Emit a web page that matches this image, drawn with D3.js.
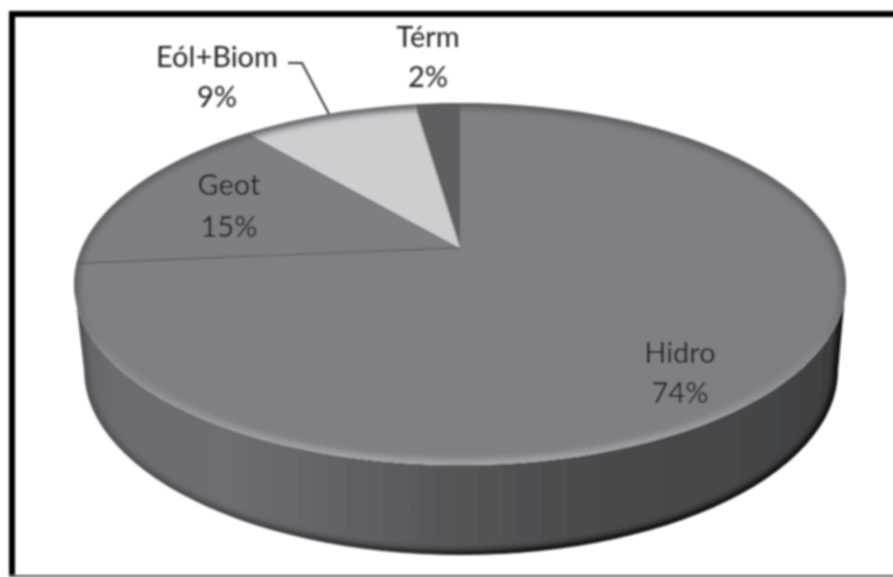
<!DOCTYPE html>
<html>
<head>
<meta charset="utf-8">
<script src="https://cdn.jsdelivr.net/npm/d3@7"></script>
<style>
html, body { margin: 0; padding: 0; background: #fff; overflow: hidden; }
text { font-family: Lato, "Open Sans", sans-serif; font-size: 29px; fill: #222224; text-anchor: middle; }
</style>
</head>
<body>
<svg id="svg" width="893" height="577"></svg>
<script>
var categories = ["Hidro", "Geot", "Eól+Biom", "Térm"];
// the printed labels are rounded
var shares = [73.6, 15.2, 8.9, 2.3];
var shareLabels = ["74%", "15%", "9%", "2%"];

var svg = d3.select("#svg");
var defs = svg.append("defs");

// top face is a tilted disc: centre of the pie sits above the centre of the ellipse
var top_ = { cx: 460, cy: 284, rx: 386, ry: 181 };
var bot = { cx: 461, cy: 370, rx: 377, ry: 185 };
var tilt = -0.2;

function project(angle, r) {
	var u = Math.sin(angle) * r, v = -Math.cos(angle) * r;
	var k = 1 + tilt * v;
	return [
		top_.cx + top_.rx * u * Math.sqrt(1 - tilt * tilt) / k,
		top_.cy + top_.ry * (v + tilt) / k
	];
}

function ellipsePt(e, a) {
	return [e.cx + e.rx * Math.cos(a), e.cy + e.ry * Math.sin(a)];
}

var line = d3.line();

function slicePath(d) {
	var n = Math.ceil((d.endAngle - d.startAngle) * 60);
	var pts = [project(0, 0)];
	d3.range(n + 1).forEach(function(i) {
		pts.push(project(d.startAngle + (d.endAngle - d.startAngle) * i / n, 1));
	});
	return line(pts) + "Z";
}

var pie = d3.pie().sort(null);
var slices = pie(shares);

var fill = d3.scaleOrdinal().domain(categories).range(["#7f8083", "#7e7f82", "#cdced0", "#5e5f62"]);

// filters
var soft = defs.append("filter").attr("id", "soft").attr("x", "-5%").attr("y", "-5%").attr("width", "110%").attr("height", "110%");
soft.append("feGaussianBlur").attr("stdDeviation", 0.8);
var blur3 = defs.append("filter").attr("id", "blur3").attr("filterUnits", "userSpaceOnUse")
	.attr("x", 0).attr("y", 0).attr("width", 893).attr("height", 577);
blur3.append("feGaussianBlur").attr("stdDeviation", 3);

// side wall shading, left to right
var wallGrad = defs.append("linearGradient").attr("id", "wallGrad")
	.attr("gradientUnits", "userSpaceOnUse")
	.attr("x1", 74).attr("x2", 846).attr("y1", 0).attr("y2", 0);
[[0, "#616265"], [0.05, "#6b6c6f"], [0.2, "#6d6e71"], [0.35, "#616265"], [0.5, "#545557"], [0.7, "#48494b"], [0.9, "#444547"], [1, "#3c3c3e"]]
	.forEach(function(s) { wallGrad.append("stop").attr("offset", s[0]).attr("stop-color", s[1]); });

// dark outer edge of the wall, faint on the left and nearly black on the right
var edgeGrad = defs.append("linearGradient").attr("id", "edgeGrad")
	.attr("gradientUnits", "userSpaceOnUse")
	.attr("x1", 74).attr("x2", 846).attr("y1", 0).attr("y2", 0);
[[0, "#000", 0.25], [0.3, "#000", 0.55], [0.6, "#000", 1], [1, "#000", 1]]
	.forEach(function(s) { edgeGrad.append("stop").attr("offset", s[0]).attr("stop-color", s[1]).attr("stop-opacity", s[2]); });

// rim of the top face: darker up and to the right, pale along the front
var rimGrad = defs.append("linearGradient").attr("id", "rimGrad")
	.attr("gradientUnits", "userSpaceOnUse")
	.attr("x1", 0).attr("x2", 0).attr("y1", 103).attr("y2", 465);
[[0, "#5c5d60"], [0.5, "#5e5f62"], [0.68, "#868789"], [1, "#a6a7a9"]]
	.forEach(function(s) { rimGrad.append("stop").attr("offset", s[0]).attr("stop-color", s[1]); });

var chart = svg.append("g").attr("filter", "url(#soft)");

// frame
chart.append("rect").attr("x", 9).attr("y", 11).attr("width", 900).attr("height", 6).attr("fill", "#000");
chart.append("rect").attr("x", 9).attr("y", 11).attr("width", 6).attr("height", 566).attr("fill", "#000");
chart.append("rect").attr("x", 9).attr("y", 575).attr("width", 900).attr("height", 2).attr("fill", "#555");

// wall
var frontTop = d3.range(0, 181, 3).map(function(a) { return ellipsePt(top_, a * Math.PI / 180); });
var frontBot = d3.range(0, 181, 3).map(function(a) { return ellipsePt(bot, a * Math.PI / 180); });
var wallD = line(frontBot) + "L" + line(frontTop.slice().reverse()).slice(1) + "Z";
var wallClip = defs.append("clipPath").attr("id", "wallClip");
wallClip.append("path").attr("d", wallD);

var wall = chart.append("g").attr("clip-path", "url(#wallClip)");
wall.append("path").attr("d", wallD).attr("fill", "url(#wallGrad)");
var outline = [ellipsePt(top_, 0)].concat(frontBot, [ellipsePt(top_, Math.PI)]);
wall.append("path").attr("d", line(outline)).attr("fill", "none")
	.attr("stroke", "url(#edgeGrad)").attr("stroke-width", 8).attr("filter", "url(#blur3)");

// top face
var faceD = line(d3.range(0, 361, 2).map(function(a) { return ellipsePt(top_, a * Math.PI / 180); })) + "Z";
var faceClip = defs.append("clipPath").attr("id", "faceClip");
faceClip.append("path").attr("d", faceD);

var face = chart.append("g").attr("clip-path", "url(#faceClip)");

face.selectAll("path.slice")
	.data(slices)
	.enter()
	.append("path")
	.attr("class", "slice")
	.attr("d", slicePath)
	.attr("fill", function(d, i) { return fill(categories[i]); });

face.append("path").attr("d", faceD).attr("fill", "none")
	.attr("stroke", "url(#rimGrad)").attr("stroke-width", 10).attr("filter", "url(#blur3)");

// edge between Hidro and Geot, and the pale wedge's side
face.append("path")
	.attr("d", line([project(0, 0), project(slices[1].startAngle, 1)]))
	.attr("stroke", "#565759").attr("stroke-width", 1.2).attr("fill", "none");
face.append("path")
	.attr("d", line([project(0, 0), project(slices[3].startAngle, 1)]))
	.attr("stroke", "#a0a1a3").attr("stroke-width", 1).attr("fill", "none");

// leader for Eól+Biom
chart.append("path")
	.attr("d", line([[288, 63], [302, 63], [329, 114]]))
	.attr("fill", "none").attr("stroke", "#333").attr("stroke-width", 2);

// labels
var labelAt = [[680, 363, 403], [229, 195, 237], [217, 67, 107], [428, 47, 87]];
var labels = chart.append("g");
categories.forEach(function(name, i) {
	labels.append("text").attr("x", labelAt[i][0]).attr("y", labelAt[i][1]).text(name);
	labels.append("text").attr("x", labelAt[i][0]).attr("y", labelAt[i][2]).text(shareLabels[i]);
});
</script>
</body>
</html>
